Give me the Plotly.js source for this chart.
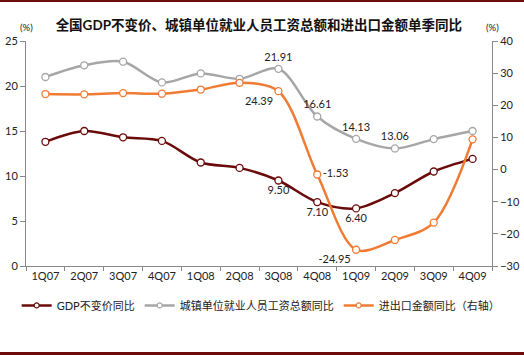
<!DOCTYPE html>
<html>
<head>
<meta charset="utf-8">
<script src="https://cdn.plot.ly/plotly-3.0.1.min.js"></script>
<style>
html,body{margin:0;padding:0;background:#fff;}
#wrap{position:relative;width:524px;height:355px;overflow:hidden;}
#chart{width:524px;height:355px;}
#topbar{position:absolute;left:0;top:0;width:524px;height:2px;background:#6e0a0a;}
#botbar{position:absolute;left:0;top:352px;width:524px;height:3px;background:#6e0a0a;}
</style>
</head>
<body>
<div id="wrap">
<div id="chart"></div>
<div id="topbar"></div>
<div id="botbar"></div>
</div>
<script>
const categories = ['1Q07','2Q07','3Q07','4Q07','1Q08','2Q08','3Q08','4Q08','1Q09','2Q09','3Q09','4Q09'];
const gdp   = [13.8, 15.0, 14.3, 13.9, 11.5, 10.9, 9.50, 7.10, 6.40, 8.1, 10.5, 11.9];
const wage  = [21.0, 22.3, 22.7, 20.4, 21.4, 20.8, 21.91, 16.61, 14.13, 13.06, 14.1, 15.0];
const trade = [23.5, 23.4, 23.8, 23.6, 24.9, 27.0, 24.39, -1.53, -24.95, -21.9, -16.5, 9.4];
const gdpLabels   = ['','','','','','','9.50','7.10','6.40','','',''];
const wageLabels  = ['','','','','','','21.91','16.61','14.13','13.06','',''];
const tradeLabels = ['','','','','','','24.39','-1.53','-24.95','','',''];
const names = ['GDP不变价同比','城镇单位就业人员工资总额同比','进出口金额同比（右轴）'];

const FONT = 'Lato, "Noto Sans CJK SC", sans-serif';
const cGdp = '#6b0a0a', cWage = '#a6a6a6', cTrade = '#f07b33';

function tr(y, color, name, text, tpos, yaxis){
  return {
    x: categories, y: y, name: name, yaxis: yaxis, showlegend: false,
    type: 'scatter', mode: 'lines+markers+text',
    line: {color: color, width: 2.5, shape: 'spline', smoothing: 0.9},
    marker: {symbol: 'circle', size: 7, color: '#ffffff', line: {color: color, width: 1.3}},
    text: text, textposition: tpos,
    textfont: {family: FONT, size: 11, color: '#222'},
    cliponaxis: false
  };
}
function leg(color, name){
  return {
    x: [null], y: [null], name: name, type: 'scatter', mode: 'lines+markers', showlegend: true,
    line: {color: color, width: 2.5},
    marker: {symbol: 'circle', size: 5, color: '#ffffff', line: {color: color, width: 1.2}}
  };
}

const data = [
  tr(gdp, cGdp, names[0], gdpLabels, 'bottom center', 'y'),
  tr(wage, cWage, names[1], wageLabels, 'top center', 'y'),
  tr(trade, cTrade, names[2], tradeLabels,
     ['top center','top center','top center','top center','top center','top center','bottom left','middle right','bottom left','top center','top center','top center'], 'y2'),
  leg(cGdp, names[0]), leg(cWage, names[1]), leg(cTrade, names[2])
];

const layout = {
  width: 524, height: 355,
  margin: {l: 26, r: 32, t: 41, b: 89},
  paper_bgcolor: '#fff', plot_bgcolor: '#fff',
  font: {family: FONT, size: 11, color: '#222'},
  title: {text: '<b>全国GDP不变价、城镇单位就业人员工资总额和进出口金额单季同比</b>',
          font: {family: FONT, size: 13.5, color: '#111'}, x: 0.494, xanchor: 'center', y: 0.93, yanchor: 'middle'},
  showlegend: true,
  legend: {orientation: 'h', x: -0.02, xanchor: 'left', y: -0.175, yanchor: 'middle',
           font: {family: FONT, size: 11, color: '#222'}, itemwidth: 30, traceorder: 'normal'},
  xaxis: {type: 'category', showgrid: false, zeroline: false, showline: true, linecolor: '#888', linewidth: 1,
          ticks: 'outside', tickson: 'boundaries', ticklen: 4, tickcolor: '#888',
          tickfont: {family: FONT, size: 11, color: '#222'}, range: [-0.5, 11.5]},
  yaxis: {range: [0, 25], dtick: 5, showgrid: false, zeroline: false, showline: true, linecolor: '#888', linewidth: 1,
          ticks: 'outside', ticklen: 5, tickcolor: '#888', tickfont: {family: FONT, size: 11, color: '#222'}},
  yaxis2: {range: [-30, 40], dtick: 10, overlaying: 'y', side: 'right', showgrid: false, zeroline: false,
           showline: true, linecolor: '#888', linewidth: 1, ticks: 'outside', ticklen: 5, tickcolor: '#888',
           tickfont: {family: FONT, size: 11, color: '#222'}},
  annotations: [
    {text: '(%)', xref: 'paper', yref: 'paper', x: 0, y: 1.062, xanchor: 'center', yanchor: 'middle', showarrow: false,
     font: {family: FONT, size: 9.5, color: '#222'}},
    {text: '(%)', xref: 'paper', yref: 'paper', x: 1, y: 1.062, xanchor: 'center', yanchor: 'middle', showarrow: false,
     font: {family: FONT, size: 9.5, color: '#222'}}
  ]
};

Plotly.newPlot('chart', data, layout, {displayModeBar: false, staticPlot: true});
</script>
</body>
</html>
